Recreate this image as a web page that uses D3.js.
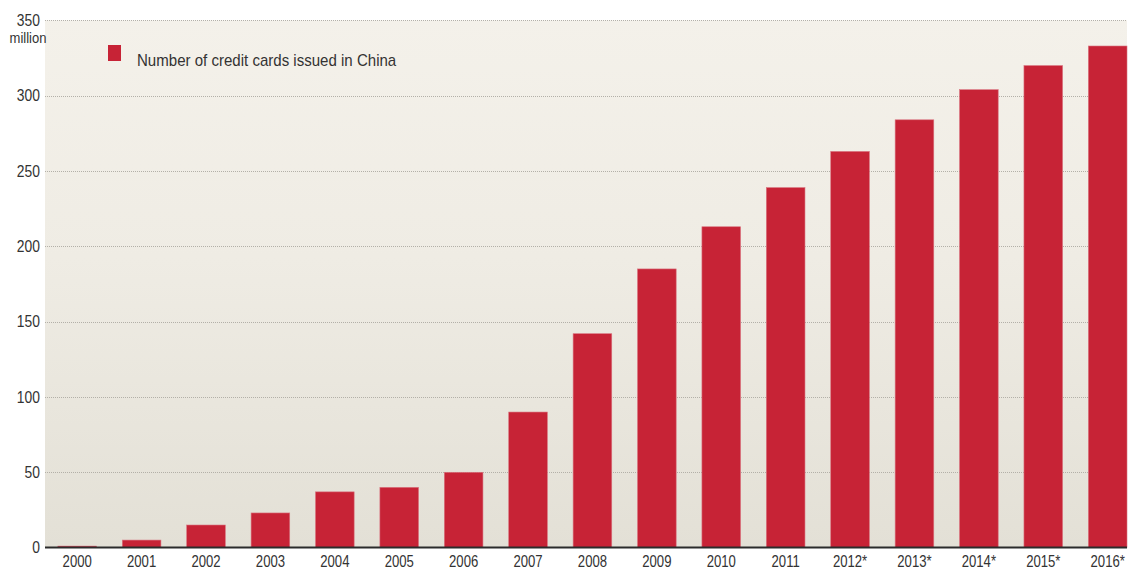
<!DOCTYPE html>
<html>
<head>
<meta charset="utf-8">
<script src="https://cdn.jsdelivr.net/npm/d3@7"></script>
<style>
  html, body { margin: 0; padding: 0; background: #fff; }
  svg { display: block; }
  text { font-family: "Liberation Sans", Arial, Helvetica, sans-serif; fill: #333; }
</style>
</head>
<body>
<svg id="chart" width="1129" height="571"></svg>
<script>
// Credit cards issued in China, millions
const years = ["2000", "2001", "2002", "2003", "2004", "2005", "2006", "2007", "2008",
               "2009", "2010", "2011", "2012*", "2013*", "2014*", "2015*", "2016*"];
const cards = [1, 5, 15, 23, 37, 40, 50, 90, 142, 185, 213, 239, 263, 284, 304, 320, 333];
const yTicks = [0, 50, 100, 150, 200, 250, 300, 350];
const legendLabel = "Number of credit cards issued in China";
const unitLabel = "million";

const svg = d3.select("#chart");
const plot = { left: 45, right: 1127, top: 20.4, bottom: 547.6 };

// Condense a text run horizontally (narrow grotesque look)
function condense(sel, k) {
  sel.each(function () {
    const len = this.getComputedTextLength();
    d3.select(this)
      .attr("textLength", len * k)
      .attr("lengthAdjust", "spacingAndGlyphs");
  });
}

const x = d3.scaleBand()
  .domain(years)
  .range([plot.left, plot.right])
  .paddingInner(0.4)
  .paddingOuter(0.1)
  .align(1);

const y = d3.scaleLinear()
  .domain([0, 350])
  .range([plot.bottom, plot.top]);

// Background panel with soft vertical gradient
const defs = svg.append("defs");
const grad = defs.append("linearGradient")
  .attr("id", "bg").attr("x1", 0).attr("y1", 0).attr("x2", 0).attr("y2", 1);
grad.append("stop").attr("offset", "0%").attr("stop-color", "#f4f1ea");
grad.append("stop").attr("offset", "45%").attr("stop-color", "#efece4");
grad.append("stop").attr("offset", "100%").attr("stop-color", "#e3e0d6");

svg.append("rect")
  .attr("x", plot.left).attr("y", plot.top)
  .attr("width", plot.right - plot.left)
  .attr("height", plot.bottom - plot.top)
  .attr("fill", "url(#bg)");

// Dotted horizontal gridlines
svg.append("g")
  .selectAll("line")
  .data(yTicks.filter(d => d > 0))
  .join("line")
  .attr("x1", plot.left).attr("x2", plot.right)
  .attr("y1", d => Math.round(y(d)) + 0.5)
  .attr("y2", d => Math.round(y(d)) + 0.5)
  .attr("stroke", "#b3b0a8")
  .attr("stroke-width", 1)
  .attr("stroke-dasharray", "1,1");

// Bars
svg.append("g")
  .selectAll("rect")
  .data(years.map((yr, i) => ({ yr, v: cards[i] })))
  .join("rect")
  .attr("x", d => x(d.yr))
  .attr("width", x.bandwidth())
  .attr("y", d => y(d.v))
  .attr("height", d => y(0) - y(d.v))
  .attr("fill", "#c72336")
  .attr("stroke", "#d9737f")
  .attr("stroke-width", 0.6);

// Baseline
svg.append("line")
  .attr("x1", plot.left).attr("x2", plot.right)
  .attr("y1", y(0)).attr("y2", y(0))
  .attr("stroke", "#2b2b2b")
  .attr("stroke-width", 2);

// Y axis labels
const yAxis = d3.axisLeft(y).tickValues(yTicks).tickSize(0).tickPadding(5);
const gy = svg.append("g")
  .attr("transform", `translate(${plot.left},0)`)
  .call(yAxis);
gy.select(".domain").remove();
gy.selectAll("text")
  .style("font-size", "16.5px")
  .attr("fill", "#333")
  .call(condense, 0.84);

svg.append("text")
  .attr("x", 28).attr("y", 43)
  .attr("text-anchor", "middle")
  .style("font-size", "15.5px")
  .text(unitLabel)
  .call(condense, 0.84);

// X axis labels
const xAxis = d3.axisBottom(x).tickSize(0).tickPadding(8);
const gx = svg.append("g")
  .attr("transform", `translate(0,${plot.bottom})`)
  .call(xAxis);
gx.select(".domain").remove();
gx.selectAll("text")
  .style("font-size", "16px")
  .attr("fill", "#333")
  .call(condense, 0.82);

// Legend
svg.append("rect")
  .attr("x", 108).attr("y", 45)
  .attr("width", 13).attr("height", 16)
  .attr("fill", "#c72336");
svg.append("text")
  .attr("x", 137).attr("y", 66)
  .style("font-size", "17px")
  .text(legendLabel)
  .call(condense, 0.885);
</script>
</body>
</html>
